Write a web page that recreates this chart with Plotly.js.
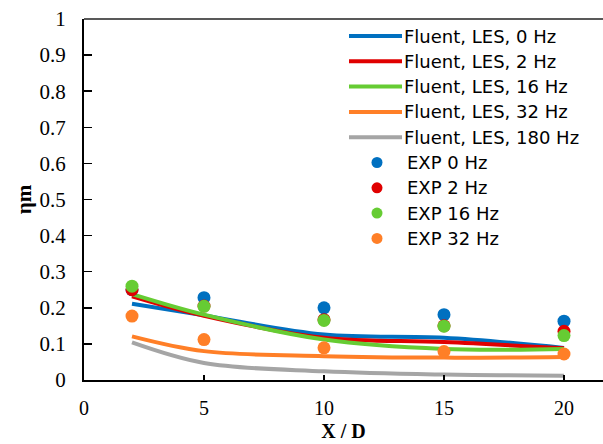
<!DOCTYPE html>
<html>
<head>
<meta charset="utf-8">
<script src="https://cdn.plot.ly/plotly-3.0.1.min.js"></script>
<style>
  html, body { margin: 0; padding: 0; background: #fff; overflow: hidden; }
  #chart { width: 603px; height: 444px; }
</style>
</head>
<body>
<div id="chart"></div>
<script>
// Stations along the jet, X/D
const xStations = [2, 5, 10, 15, 20];

// LES (Fluent) mixing efficiency at each station
const lesNames = ['Fluent, LES, 0 Hz', 'Fluent, LES, 2 Hz', 'Fluent, LES, 16 Hz', 'Fluent, LES, 32 Hz', 'Fluent, LES, 180 Hz'];
const les0   = [0.211, 0.179, 0.126, 0.117, 0.089];
const les2   = [0.232, 0.178, 0.117, 0.105, 0.088];
const les16  = [0.238, 0.181, 0.112, 0.086, 0.086];
const les32  = [0.121, 0.080, 0.066, 0.062, 0.064];
const les180 = [0.104, 0.047, 0.024, 0.015, 0.012];

// Experimental mixing efficiency
const expNames = ['EXP 0 Hz', 'EXP 2 Hz', 'EXP 16 Hz', 'EXP 32 Hz'];
const exp0  = [0.250, 0.228, 0.200, 0.181, 0.163];
const exp2  = [0.250, 0.205, 0.167, 0.150, 0.135];
const exp16 = [0.260, 0.204, 0.165, 0.149, 0.123];
const exp32 = [0.177, 0.112, 0.089, 0.079, 0.072];

const xTicks = [0, 5, 10, 15, 20];

const lesColors = ['#0070C0', '#E00000', '#66CC33', '#FF7F27', '#A5A5A5'];
const expColors = ['#0070C0', '#E00000', '#66CC33', '#FF7F27'];

const lesSeries = [les0, les2, les16, les32, les180];
const expSeries = [exp0, exp2, exp16, exp32];

const W = 603, H = 444;
const M = { l: 84, r: 0, t: 19, b: 64 };
const plotW = W - M.l - M.r, plotH = H - M.t - M.b;
const xPerPx = 1 / 24;              // 24 px per unit of X/D
const xMax = plotW * xPerPx;

const traces = [];
lesSeries.forEach((ys, i) => {
  traces.push({
    x: xStations, y: ys, name: lesNames[i], type: 'scatter', mode: 'lines',
    line: { color: lesColors[i], width: 4, shape: 'spline', smoothing: 1 },
    showlegend: false
  });
});
expSeries.forEach((ys, i) => {
  traces.push({
    x: xStations, y: ys, name: expNames[i], type: 'scatter', mode: 'markers',
    marker: { color: expColors[i], size: 13 },
    showlegend: false
  });
});

// Legend drawn in pixel positions, converted to paper coordinates
const px = v => (v - M.l) / plotW;
const py = v => (M.t + plotH - v) / plotH;
const legendFont = { family: 'DejaVu Sans', size: 18, color: '#000' };
const shapes = [];
const annotations = [];
const rowGap = 25.3;
lesNames.forEach((name, i) => {
  const yc = 36 + i * rowGap;
  shapes.push({ type: 'line', xref: 'paper', yref: 'paper', x0: px(349), x1: px(402), y0: py(yc), y1: py(yc),
    line: { color: lesColors[i], width: 4 } });
  annotations.push({ xref: 'paper', yref: 'paper', x: px(402), y: py(yc), xanchor: 'left', yanchor: 'middle',
    text: name, showarrow: false, font: legendFont });
});
expNames.forEach((name, i) => {
  const yc = 36 + (i + 5) * rowGap;
  const r = 5.5;
  shapes.push({ type: 'circle', xref: 'paper', yref: 'paper', x0: px(377 - r), x1: px(377 + r), y0: py(yc + r), y1: py(yc - r),
    fillcolor: expColors[i], line: { width: 0 } });
  annotations.push({ xref: 'paper', yref: 'paper', x: px(405), y: py(yc), xanchor: 'left', yanchor: 'middle',
    text: name, showarrow: false, font: legendFont });
});
// thin frame along the top of the plot area
shapes.push({ type: 'line', xref: 'paper', yref: 'paper', x0: 0, x1: 1, y0: 1, y1: 1,
  line: { color: '#222', width: 1.3 } });

const serif = 'Liberation Serif';

const layout = {
  width: W, height: H,
  margin: M,
  paper_bgcolor: '#fff', plot_bgcolor: '#fff',
  showlegend: false,
  xaxis: {
    range: [0, xMax], tickvals: xTicks, ticktext: xTicks.map(String),
    showgrid: false, zeroline: false,
    showline: true, linecolor: '#000', linewidth: 2,
    ticks: 'inside', ticklen: 5, tickwidth: 1.5, tickcolor: '#000',
    ticklabelstandoff: 9,
    tickfont: { family: serif, size: 20, color: '#000' },
    title: { text: 'X / D', font: { family: serif, size: 20, color: '#000', weight: 'bold' }, standoff: 6 }
  },
  yaxis: {
    range: [0, 1], dtick: 0.1, tick0: 0,
    showgrid: false, zeroline: false,
    showline: true, linecolor: '#000', linewidth: 2,
    ticks: 'inside', ticklen: 8, tickwidth: 1.5, tickcolor: '#000',
    ticklabelstandoff: 12,
    tickfont: { family: serif, size: 21, color: '#000' },
    title: { text: 'ηm', font: { family: serif, size: 21, color: '#000', weight: 'bold' } }
  },
  shapes: shapes,
  annotations: annotations
};

Plotly.newPlot('chart', traces, layout, { displayModeBar: false, staticPlot: true });
</script>
</body>
</html>
